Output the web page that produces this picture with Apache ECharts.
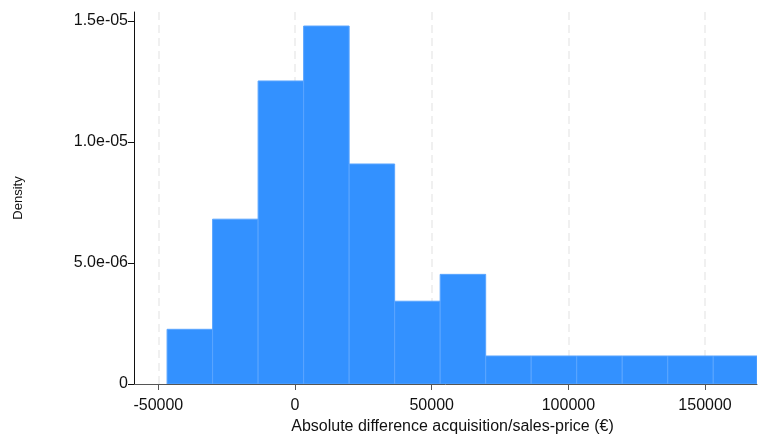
<!DOCTYPE html>
<html>
<head>
<meta charset="utf-8">
<script src="https://cdn.jsdelivr.net/npm/echarts@6/dist/echarts.min.js"></script>
<style>html,body{margin:0;padding:0;background:#fff;}#c{width:759px;height:434px;}</style>
</head>
<body>
<div id="c"></div>
<script>
// Histogram bins (left edges, right edges) and densities
const binStart = [-46800, -30150, -13500, 3150, 19800, 36450, 53100, 69750, 86400, 103050, 119700, 136350, 153000];
const binEnd   = [-30150, -13500, 3150, 19800, 36450, 53100, 69750, 86400, 103050, 119700, 136350, 153000, 169650];
const density  = [2.26e-6, 6.81e-6, 12.52e-6, 14.79e-6, 9.09e-6, 3.42e-6, 4.53e-6, 1.157e-6, 1.157e-6, 1.157e-6, 1.157e-6, 1.157e-6, 1.157e-6];
const xTicks = [-50000, 0, 50000, 100000, 150000];
const xTickLabels = ['-50000', '0', '50000', '100000', '150000'];
const yTicks = [0, 5e-6, 1e-5, 1.5e-5];
const yTickLabels = ['0', '5.0e-06', '1.0e-05', '1.5e-05'];

const data = binStart.map((s, i) => [s, binEnd[i], density[i]]);
const font = 'Liberation Sans, Arial, sans-serif';

function pick(ticks, labels, v) {
  const i = ticks.findIndex(t => Math.abs(t - v) <= Math.abs(t) * 1e-9 + 1e-15);
  return i >= 0 ? labels[i] : '';
}

const chart = echarts.init(document.getElementById('c'));
chart.setOption({
  animation: false,
  backgroundColor: '#fff',
  grid: { left: 134, right: 2, top: 12, bottom: 50, containLabel: false, outerBoundsMode: 'none' },
  xAxis: {
    type: 'value', min: -58900, max: 169000,
    name: 'Absolute difference acquisition/sales-price (€)',
    nameLocation: 'middle', nameGap: 32,
    nameTextStyle: { color: '#111', fontSize: 16, fontFamily: font, padding: [0, 0, 0, 14] },
    axisLine: { show: true, onZero: false, lineStyle: { color: '#555', width: 1 } },
    axisTick: { show: true, length: 6, customValues: xTicks, lineStyle: { color: '#555' } },
    axisLabel: { customValues: xTicks, color: '#111', fontSize: 16, fontFamily: font, margin: 14,
      formatter: v => pick(xTicks, xTickLabels, v) },
    splitLine: { show: true, lineStyle: { color: '#ececec', type: [8, 5], width: 1.5 } }
  },
  yAxis: {
    type: 'value', min: 0, max: 1.537e-5,
    name: 'Density', nameLocation: 'middle', nameGap: 109, nameRotate: 90,
    nameTextStyle: { color: '#111', fontSize: 13, fontFamily: font },
    axisLine: { show: true, onZero: false, lineStyle: { color: '#111', width: 1 } },
    axisTick: { show: true, length: 6, customValues: yTicks, lineStyle: { color: '#111' } },
    axisLabel: {
      customValues: yTicks, color: '#111', fontSize: 16, fontFamily: font, margin: 6,
      formatter: v => pick(yTicks, yTickLabels, v)
    },
    splitLine: { show: false }
  },
  series: [{
    type: 'custom',
    data: data,
    encode: { x: [0, 1], y: 2 },
    clip: true,
    renderItem: function (params, api) {
      const p0 = api.coord([api.value(0), api.value(2)]);
      const p1 = api.coord([api.value(1), 0]);
      const rect = echarts.graphic.clipRectByRect(
        { x: p0[0], y: p0[1], width: p1[0] - p0[0], height: p1[1] - p0[1] },
        { x: params.coordSys.x, y: params.coordSys.y, width: params.coordSys.width, height: params.coordSys.height }
      );
      return rect && {
        type: 'rect',
        shape: rect,
        style: { fill: '#3391ff', stroke: '#5aa5ff', lineWidth: 1 }
      };
    }
  }]
});
</script>
</body>
</html>
